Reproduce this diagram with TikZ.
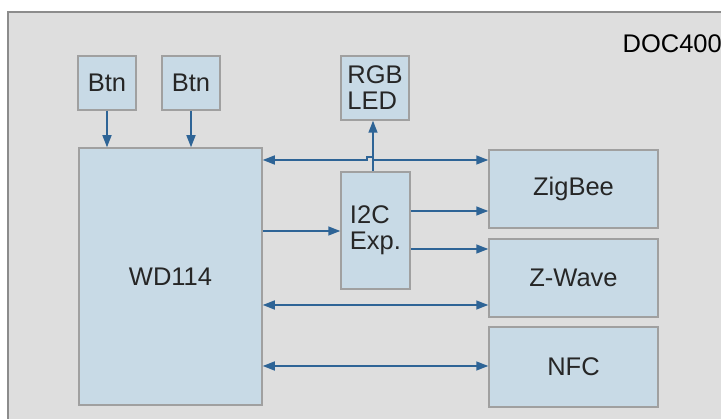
\documentclass[tikz,border=0pt]{standalone}
\usepackage{fontspec}
\setmainfont{Liberation Sans}
\usepackage{tikz}
\usetikzlibrary{arrows.meta, calc}
\definecolor{bggray}{HTML}{DEDEDE}
\definecolor{framegray}{HTML}{8C8C8C}
\definecolor{boxfill}{HTML}{C8DAE6}
\definecolor{boxline}{HTML}{A0A0A0}
\definecolor{linkblue}{HTML}{2E6496}

\tikzset{
    block/.style={draw=boxline, line width=1.5pt, fill=boxfill, inner sep=0pt,
        font=\fontsize{25.5}{26}\selectfont, align=left, text=black!85},
    link/.style={draw=linkblue, line width=1.5pt,
        -{Triangle[length=12pt, width=9pt]}},
    dlink/.style={link, {Triangle[length=12pt, width=9pt]}-{Triangle[length=12pt, width=9pt]}}
}

\begin{document}
\begin{tikzpicture}[x=1pt, y=-1pt]
    % Canvas
    \useasboundingbox (0,0) rectangle (721,419);
    \clip (0,0) rectangle (721,419);
    \fill[white] (0,0) rectangle (721,419);
    \draw[framegray, line width=2pt, fill=bggray] (8,12) rectangle (760,460);
    \node[anchor=east, inner sep=0pt, font=\fontsize{25.5}{26}\selectfont] (doc) at (722,44) {DOC400};

    % Blocks
    \node[block, minimum width=58pt, minimum height=54pt] (btnA) at (107,83) {Btn};
    \node[block, minimum width=58pt, minimum height=54pt] (btnB) at (191,83) {Btn};
    \node[block, minimum width=68pt, minimum height=64pt] (rgb) at (375,88) {RGB\\LED};
    \node[block, minimum width=183pt, minimum height=257pt] (wd) at (170.5,276.5) {WD114};
    \node[block, minimum width=69pt, minimum height=117pt] (i2c) at (375.5,230.5) {I2C\\Exp.};
    \node[block, minimum width=169pt, minimum height=78pt] (zig) at (573.5,189) {ZigBee};
    \node[block, minimum width=169pt, minimum height=78pt] (zw) at (573.5,278) {Z-Wave};
    \node[block, minimum width=169pt, minimum height=80pt] (nfc) at (573.5,367) {NFC};

    % Links
    \draw[link] (btnA.south) -- (wd.north -| btnA.south);
    \draw[link] (btnB.south) -- (wd.north -| btnB.south);
    \draw[link] (i2c.north -| 373,0) -- (rgb.south -| 373,0);
    \draw[dlink] (wd.east |- 0,160) -- (367,160) -- (367,157) -- (373,157) -- (373,160) -- (zig.west |- 0,160);
    \draw[link] (wd.east |- 0,231) -- (i2c.west |- 0,231);
    \draw[link] (i2c.east |- 0,211) -- (zig.west |- 0,211);
    \draw[link] (i2c.east |- 0,249) -- (zw.west |- 0,249);
    \draw[dlink] (wd.east |- 0,305) -- (zw.west |- 0,305);
    \draw[dlink] (wd.east |- 0,366) -- (nfc.west |- 0,366);
\end{tikzpicture}
\end{document}
